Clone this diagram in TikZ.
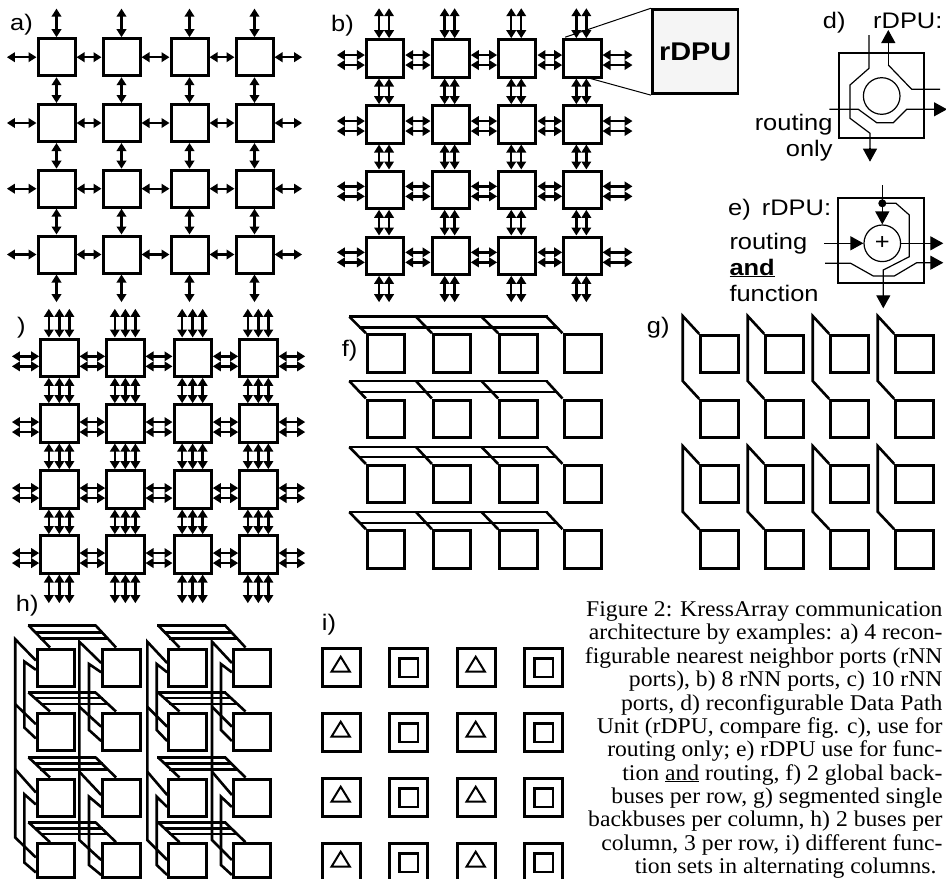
\documentclass[tikz,border=0pt]{standalone}
\usepackage{fontspec}
\usetikzlibrary{arrows.meta}
\newfontfamily\arialw[FakeStretch=1.13]{Liberation Sans}
\newfontfamily\timesw[FakeStretch=1.052]{Liberation Serif}
\tikzset{
  cell/.style={draw,fill=white,line width=3pt,inner sep=0pt},
  biarrow/.style={line width=2.4pt,{Triangle[length=8pt,width=9.5pt]}-{Triangle[length=8pt,width=9.5pt]}},
  bus/.style={line width=2.6pt},
  lab/.style={anchor=base west,inner sep=0pt,font=\arialw\fontsize{22.5}{25}\selectfont},
  thin box/.style={draw,line width=2pt,inner sep=0pt},
  wire/.style={line width=1.2pt},
  bigtip/.style={line width=1.2pt,-{Triangle[length=13pt,width=14pt]}},
}
\newcommand\cellgrid[5]{%
  \foreach \c/\x in {#2}{\foreach \r/\y in {#3}{%
    \node[cell,minimum width=#4pt,minimum height=#5pt] (#1-\r-\c) at (\x+#4/2,\y+#5/2) {};
  }}}
\newcommand\meshlinks[7]{%
  \foreach \r in {1,2,3,4}{\foreach \o in {#3}{%
    \draw[biarrow] ([yshift=\o pt]#1-\r-1.west) -- ++(-#6,0);
    \draw[biarrow] ([yshift=\o pt]#1-\r-4.east) -- ++(#7,0);
    \foreach \c/\n in {1/2,2/3,3/4}{\draw[biarrow] ([yshift=\o pt]#1-\r-\c.east) -- ([yshift=\o pt]#1-\r-\n.west);}
  }}%
  \foreach \c in {1,2,3,4}{\foreach \o in {#2}{%
    \draw[biarrow] ([xshift=\o pt]#1-1-\c.north) -- ++(0,-#4);
    \draw[biarrow] ([xshift=\o pt]#1-4-\c.south) -- ++(0,#5);
    \foreach \r/\n in {1/2,2/3,3/4}{\draw[biarrow] ([xshift=\o pt]#1-\r-\c.south) -- ([xshift=\o pt]#1-\n-\c.north);}
  }}}
% h) row buses: dx, first column, row, y1, y2, y3
\newcommand\hrowbus[6]{%
  \draw[bus] (27.5+#1,#4) -- (96+#1,#4);
  \draw[bus] (34.5+#1,#5) -- (102.5+#1,#5);
  \draw[bus] (39.5+#1,#6) -- (108+#1,#6);
  \draw[bus] (28.5+#1,#4) -- (50+#1,0 |- h-#3-#2.north);
  \draw[bus] (95.5+#1,#4) -- (116+#1,0 |- h-#3-#2.north);
}
% h) column buses: column, outer x, inner x, y shift
\newcommand\hcolbus[4]{%
  \draw[bus] (h-1-#1.west |- 0,663+#4) -- (#2,641.7+#4) -- (#2,840+#4) -- (h-4-#1.west |- 0,860+#4);
  \draw[bus] (#2,706.7+#4) -- (h-2-#1.west |- 0,726.7+#4);
  \draw[bus] (#2,771.7+#4) -- (h-3-#1.west |- 0,795+#4);
  \draw[bus] (h-1-#1.west |- 0,672.3+#4) -- (#3,664+#4) -- (#3,730+#4) -- (h-2-#1.west |- 0,741+#4);
  \draw[bus] (h-3-#1.west |- 0,807+#4) -- (#3,796.7+#4) -- (#3,865+#4) -- (h-4-#1.west |- 0,875+#4);
}
\begin{document}
\begin{tikzpicture}[x=1pt,y=-1pt]
\useasboundingbox (0,0) rectangle (946,879);
% a)
\cellgrid{a}{1/38,2/103,3/171,4/236}{1/38.7,2/104.5,3/170.2,4/236}{37}{37}
\meshlinks{a}{0}{0}{28.6}{27.6}{29.6}{27.6}
\node[lab] (la) at (10,30.7) {a)};
% b)
\cellgrid{b}{1/366.4,2/432,3/498.6,4/563.7}{1/39.7,2/105.7,3/171,4/237}{37.3}{37.3}
\meshlinks{b}{-6,4}{3.3,-6.7}{30}{26.4}{28}{30}
\node[lab] (lb) at (331,31.7) {b)};
\node[draw,fill=black!4,line width=2.9pt,inner sep=0pt,minimum width=85.6pt,minimum height=84pt,
      font=\arialw\bfseries\fontsize{25.6}{28}\selectfont] (big) at (695.2,51.7) {rDPU};
\draw[line width=1pt] (b-1-4.north west) ++(3,-1) -- (big.north west);
\draw[line width=1pt] ([xshift=8pt]b-1-4.south) -- (big.south west);
% c)
\cellgrid{c}{1/40.7,2/106.7,3/174,4/239.7}{1/339,2/404.7,3/470.7,4/535.7}{37.3}{37.3}
\meshlinks{c}{-10.5,0,10}{1.3,-8.7}{28.7}{28.7}{27.3}{26.7}
\node[lab] (lc) at (17,333) {)};
% d)
\node[lab] (ld) at (822.7,28) {d)};
\node[lab] (ld2) at (873,28) {rDPU:};
\node[thin box,minimum width=85pt,minimum height=85pt] (dbox) at (881,95.5) {};
\node[draw,circle,line width=1.2pt,inner sep=0pt,minimum size=36.6pt] (dc) at (881.7,96) {};
\draw[wire] (869,35) -- (869,68.3) -- (850,85) -- (850,118.3) -- (870,133.3) -- (870,150);
\draw[bigtip] (870,148) -- (870,161.7);
\draw[bigtip] (888.3,65) -- (888.3,30);
\draw[wire] (888.3,65) -- (911.7,89.3) -- (940,89.3);
\draw[wire] (829.3,109.3) -- (858.3,109.3) -- (876.7,122.7) -- (893.3,122.7) -- (906.7,109.3) -- (936,109.3);
\draw[bigtip] (930,109.3) -- (947,109.3);
\node[lab,anchor=base east] (dr) at (832.7,130.7) {routing};
\node[lab,anchor=base east] (do) at (832.7,156.7) {only};
% e)
\node[lab] (le) at (728,215) {e)\hspace{4pt} rDPU:};
\node[thin box,minimum width=86pt,minimum height=85pt] (ebox) at (880.5,240) {};
\node[draw,circle,line width=1.2pt,inner sep=0pt,minimum size=36.6pt,
      font=\arialw\fontsize{22.5}{25}\selectfont] (ec) at (882.3,243.3) {+};
\draw[bigtip] (882.3,185) -- (ec.north);
\fill (882.3,203.3) circle (4pt);
\draw[wire] (882.3,203.3) -- (896,203.3) -- (909.3,215) -- (909.3,256.7) -- (883.3,270) -- (883.3,297);
\draw[bigtip] (883.3,290) -- (883.3,308.3);
\draw[bigtip] (824.3,243.3) -- (ec.west);
\draw[bigtip] (ec.east) -- (943.3,243.3);
\draw[wire] (825,263.3) -- (850.7,263.3) -- (873.3,276) -- (894.3,276) -- (916.7,262.7) -- (932,262.7);
\draw[bigtip] (925,262.7) -- (943.3,262.7);
\node[lab] (er) at (729.3,249.3) {routing};
\node[lab] (ea) at (729.3,275) {\underline{\textbf{and}}};
\node[lab] (ef) at (729.3,301.7) {function};
% f)
\cellgrid{f}{1/367.4,2/433.4,3/499.7,4/564}{1/334.7,2/400,3/465.4,4/530.7}{37.5}{37.5}
\node[lab] (lf) at (341.7,356.7) {f)};
\foreach \r/\yt/\yl in {1/316.7/327.3,2/381/392,3/447/457,4/512/523}{
  \draw[bus] (349,\yt) -- (547.5,\yt);
  \draw[bus] (359,\yl) -- (557,\yl);
  \foreach \c/\xt in {1/349.3,2/416,3/481.5,4/546.5}{
    \draw[bus] (\xt,\yt) -- (f-\r-\c.north west);
  }
}
% g)
\cellgrid{g}{1/700.7,2/765.7,3/830.7,4/895.7}{1/335.4,2/400.4,3/465.4,4/530.7}{37.5}{37.5}
\node[lab] (lg) at (646.7,333) {g)};
\foreach \c/\xb in {1/682.7,2/747.7,3/812.7,4/877.7}{
  \draw[bus] (g-1-\c.north west) -- (\xb,316) -- (\xb,381) -- (g-2-\c.north west);
  \draw[bus] (g-3-\c.north west) -- (\xb,446) -- (\xb,511.7) -- (g-4-\c.north west);
}
% h)
\cellgrid{h}{1/37.4,2/102.7,3/168.7,4/233.4}{1/649,2/713,3/779}{37.4}{37.4}
\cellgrid{h}{1/37.4,2/102.7,3/168.7,4/233.4}{4/843.7}{37.4}{34}
\node[lab] (lh) at (15.7,611.7) {h)};
\foreach \dx/\cc in {0/1,129.5/3}{
  \hrowbus{\dx}{\cc}{1}{625.3}{632.3}{638.3}
  \hrowbus{\dx}{\cc}{2}{692.5}{698}{704}
  \hrowbus{\dx}{\cc}{3}{757.3}{763.3}{769.3}
  \hrowbus{\dx}{\cc}{4}{822.3}{828.3}{834}
}
\hcolbus{1}{15.2}{24.3}{-2.5}
\hcolbus{2}{79.3}{89}{0}
\hcolbus{3}{147.3}{156.7}{0}
\hcolbus{4}{212}{221}{0}
% i)
\node[lab] (li) at (321.7,630) {i)};
\cellgrid{i}{1/322.4,2/389.7,3/457.4,4/524.7}{1/648.7,2/713.7,3/778.7,4/843.7}{38}{38}
\foreach \r in {1,2,3,4}{
  \foreach \c in {1,3}{
    \draw[line width=2pt,line join=miter] (i-\r-\c.center) ++(-0.7,-11) -- ++(9.2,15) -- ++(-18.4,0) -- cycle;
  }
  \foreach \c in {2,4}{
    \node[draw,line width=2.6pt,inner sep=0pt,minimum size=18.6pt] (i-\r-\c-in) at (i-\r-\c.center) {};
  }
}
% caption
\node[anchor=north east,inner sep=0pt,align=right,
      font=\timesw\fontsize{22.5}{23.35}\selectfont] (cap) at (942.7,601.5) {%
Figure 2: KressArray communication\\
architecture by examples: a) 4 recon-\hspace*{6pt}\\
figurable nearest neighbor ports (rNN\\
ports), b) 8 rNN ports, c) 10 rNN\\
ports, d) reconfigurable Data Path\\
Unit (rDPU, compare fig. c), use for\\
routing only; e) rDPU use for func-\hspace*{6pt}\\
tion \underline{and} routing, f) 2 global back-\hspace*{6pt}\\
buses per row, g) segmented single\\
backbuses per column, h) 2 buses per\\
column, 3 per row, i) different func-\hspace*{6pt}\\
tion sets in alternating columns.\hspace*{6pt}};
\end{tikzpicture}
\end{document}
